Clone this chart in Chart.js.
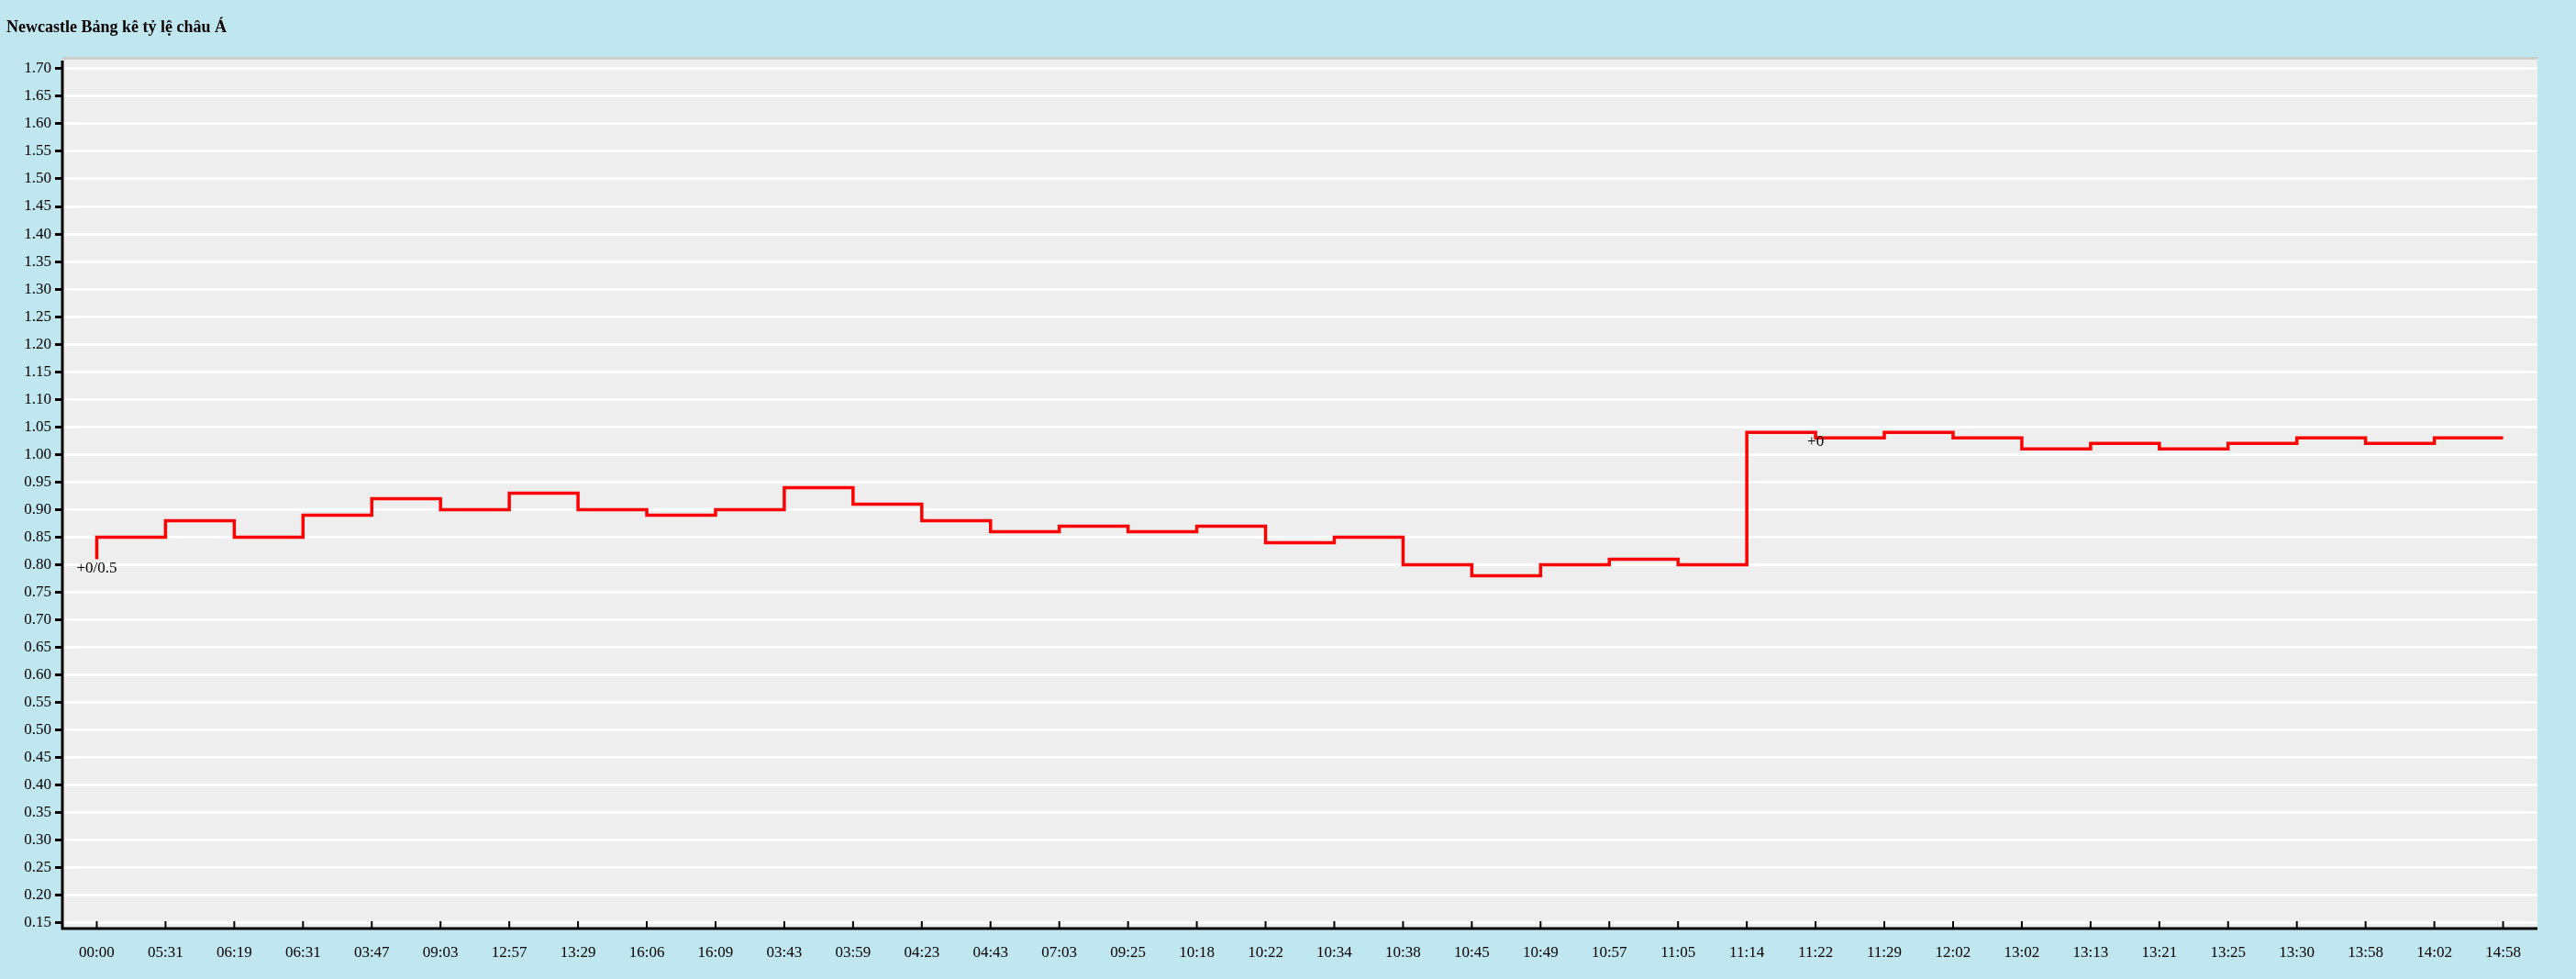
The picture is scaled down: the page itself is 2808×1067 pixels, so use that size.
<!DOCTYPE html>
<html>
<head>
<meta charset="utf-8">
<script src="https://cdn.jsdelivr.net/npm/chart.js@4/dist/chart.umd.min.js"></script>
<style>
  html, body { margin: 0; padding: 0; background: #c0e6f0; }
  #wrap { width: 2808px; height: 1067px; }
</style>
</head>
<body>
<div id="wrap"><canvas id="chart"></canvas></div>
<script>
const times = ['00:00', '05:31', '06:19', '06:31', '03:47', '09:03', '12:57', '13:29', '16:06', '16:09',
  '03:43', '03:59', '04:23', '04:43', '07:03', '09:25', '10:18', '10:22', '10:34', '10:38',
  '10:45', '10:49', '10:57', '11:05', '11:14', '11:22', '11:29', '12:02', '13:02', '13:13',
  '13:21', '13:25', '13:30', '13:58', '14:02', '14:58'];

const odds = [0.81, 0.85, 0.88, 0.85, 0.89, 0.92, 0.90, 0.93, 0.90, 0.89,
  0.90, 0.94, 0.91, 0.88, 0.86, 0.87, 0.86, 0.87, 0.84, 0.85,
  0.80, 0.78, 0.80, 0.81, 0.80, 1.04, 1.03, 1.04, 1.03, 1.01,
  1.02, 1.01, 1.02, 1.03, 1.02, 1.03];

// handicap labels shown under some points
const handicaps = ['+0/0.5', '', '', '', '', '', '', '', '', '', '', '', '', '', '', '', '', '', '', '',
  '', '', '', '', '', '+0', '', '', '', '', '', '', '', '', '', ''];

const yTicks = [0.15, 0.20, 0.25, 0.30, 0.35, 0.40, 0.45, 0.50, 0.55, 0.60, 0.65, 0.70, 0.75, 0.80,
  0.85, 0.90, 0.95, 1.00, 1.05, 1.10, 1.15, 1.20, 1.25, 1.30, 1.35, 1.40, 1.45, 1.50, 1.55, 1.60, 1.65, 1.70];

const FONT = '"Liberation Serif", "Times New Roman", serif';

const decor = {
  id: 'decor',
  beforeDraw(chart) {
    const { ctx, chartArea: a } = chart;
    ctx.save();
    ctx.fillStyle = '#eeeeee';
    ctx.fillRect(a.left, a.top, a.right - a.left, a.bottom - a.top);
    ctx.fillStyle = '#cccccc';
    ctx.fillRect(a.left, a.top - 2, a.right - a.left, 3);
    ctx.restore();
  },
  afterDraw(chart) {
    const { ctx, chartArea: a } = chart;
    const x = chart.scales.x;
    ctx.save();
    // title
    ctx.fillStyle = '#000';
    ctx.font = 'bold 18px ' + FONT;
    ctx.textBaseline = 'middle';
    ctx.fillText('Newcastle Bảng kê tỷ lệ châu Á', 7, 30);
    // x ticks pointing up into the plot
    ctx.strokeStyle = '#000';
    ctx.lineWidth = 2;
    x.ticks.forEach((t, i) => {
      const px = x.getPixelForTick(i);
      ctx.beginPath();
      ctx.moveTo(px, a.bottom);
      ctx.lineTo(px, a.bottom - 8);
      ctx.stroke();
    });
    // axes
    ctx.lineWidth = 3;
    ctx.beginPath();
    ctx.moveTo(a.left, a.top + 2);
    ctx.lineTo(a.left, a.bottom);
    ctx.lineTo(a.right, a.bottom);
    ctx.stroke();
    // point labels
    const meta = chart.getDatasetMeta(0);
    ctx.font = '17px ' + FONT;
    ctx.textAlign = 'center';
    ctx.textBaseline = 'top';
    meta.data.forEach((p, i) => {
      if (handicaps[i]) ctx.fillText(handicaps[i], p.x, p.y + 2);
    });
    ctx.restore();
  }
};

new Chart(document.getElementById('chart'), {
  type: 'line',
  data: {
    labels: times,
    datasets: [{
      data: odds,
      stepped: 'after',
      borderColor: '#ff0000',
      borderWidth: 3.5,
      pointRadius: 0,
      fill: false
    }]
  },
  options: {
    responsive: true,
    maintainAspectRatio: false,
    animation: false,
    layout: { padding: { top: 64, right: 42, left: 0, bottom: 0 } },
    plugins: { legend: { display: false }, tooltip: { enabled: false } },
    scales: {
      x: {
        offset: true,
        grid: { display: false },
        border: { display: false },
        ticks: { color: '#000', font: { family: FONT, size: 17 }, maxRotation: 0, autoSkip: false, padding: 8 },
        afterFit(s) { s.height = 55; }
      },
      y: {
        min: 0.14,
        max: 1.718,
        afterBuildTicks(s) { s.ticks = yTicks.map(v => ({ value: v })); },
        grid: { color: '#ffffff', lineWidth: 3, tickColor: '#000', tickLength: 8 },
        border: { display: false },
        ticks: {
          color: '#000', font: { family: FONT, size: 17 }, padding: 4,
          callback: v => Number(v).toFixed(2)
        },
        afterFit(s) { s.width = 68; }
      }
    }
  },
  plugins: [decor]
});
</script>
</body>
</html>
